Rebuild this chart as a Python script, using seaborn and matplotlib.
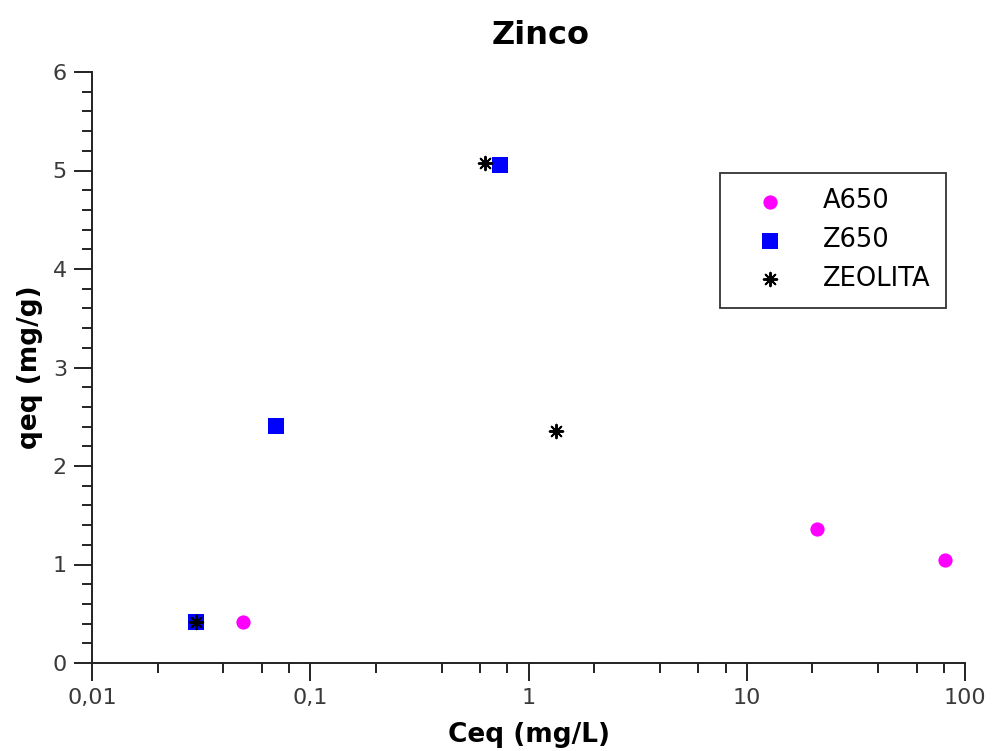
import matplotlib
matplotlib.use("Agg")
import matplotlib.pyplot as plt
import matplotlib.ticker as mticker
import seaborn as sns
import pandas as pd

# Data
a650_x = [0.049, 21.0, 81.0]
a650_y = [0.42, 1.36, 1.05]
z650_x = [0.030, 0.070, 0.74]
z650_y = [0.42, 2.41, 5.06]
zeo_x = [0.030, 0.63, 1.34]
zeo_y = [0.42, 5.08, 2.36]

series_names = ["A650", "Z650", "ZEOLITA"]
x_tick_vals = [0.01, 0.1, 1, 10, 100]
x_tick_labels = ["0,01", "0,1", "1", "10", "100"]

sns.set_theme(style="ticks")
plt.rcParams['font.family'] = ['DejaVu Sans']

fig = plt.figure(figsize=(9.94, 7.51), dpi=100)
ax = fig.add_axes([92/994, 1-663/751, (965-92)/994, (663-72)/751])

sns.scatterplot(x=a650_x, y=a650_y, ax=ax, marker='o', color='#ff00ff', s=105,
                linewidth=0, label=series_names[0])
sns.scatterplot(x=z650_x, y=z650_y, ax=ax, marker='s', color='#0000ff', s=140,
                linewidth=0, label=series_names[1])
sns.scatterplot(x=zeo_x, y=zeo_y, ax=ax, marker=(8, 2, 0), color='black', s=95,
                linewidth=1.4, label=series_names[2])

ax.set_xscale('log')
ax.set_xlim(0.01, 100)
ax.set_ylim(0, 6)

ax.xaxis.set_major_locator(mticker.FixedLocator(x_tick_vals))
ax.xaxis.set_major_formatter(mticker.FixedFormatter(x_tick_labels))
ax.xaxis.set_minor_locator(mticker.LogLocator(base=10, subs=[2, 4, 6, 8]))
ax.xaxis.set_minor_formatter(mticker.NullFormatter())
ax.yaxis.set_major_locator(mticker.MultipleLocator(1))
ax.yaxis.set_minor_locator(mticker.MultipleLocator(0.2))

ax.tick_params(axis='both', which='major', length=13, width=1.4, color='#222222',
               labelsize=16, labelcolor='#3a3a3a', pad=5, direction='out')
ax.tick_params(axis='both', which='minor', length=7, width=1.4, color='#222222', direction='out')

for side in ['top', 'right']:
    ax.spines[side].set_visible(False)
for side in ['left', 'bottom']:
    ax.spines[side].set_linewidth(1.4)
    ax.spines[side].set_color('#222222')

ax.set_xlabel("Ceq (mg/L)", fontsize=19, fontweight='bold', color='black', labelpad=10)
ax.set_ylabel("qeq (mg/g)", fontsize=19, fontweight='bold', color='black', labelpad=7)
ax.set_title("Zinco", fontsize=23, fontweight='bold', color='black', pad=20,
             x=(541-92)/873)

leg = ax.legend(loc='upper left', bbox_to_anchor=(720/994, 1-173/751),
                bbox_transform=fig.transFigure, fontsize=18.5, frameon=True,
                fancybox=False, edgecolor='black', borderpad=0.6, labelspacing=0.5,
                handletextpad=0.7, borderaxespad=0, handlelength=2.7)
leg.get_frame().set_linewidth(1.3)
for t in leg.get_texts():
    t.set_color('black')

fig.savefig("out.png", dpi=100)
